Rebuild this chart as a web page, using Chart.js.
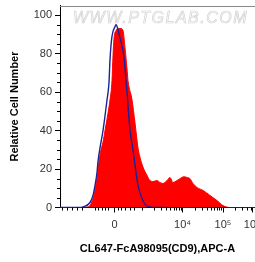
<!DOCTYPE html>
<html>
<head>
<meta charset="utf-8">
<script src="https://cdn.jsdelivr.net/npm/chart.js@4/dist/chart.umd.min.js"></script>
<style>
  html, body { margin: 0; padding: 0; background: #fff; }
  #wrap { width: 255px; height: 262px; position: relative; }
</style>
</head>
<body>
<div id="wrap"><canvas id="c" width="255" height="262"></canvas></div>
<script>
// x values are in display decades (10^4 -> 4, 10^5 -> 5; "0" sits at 2.32 on this biexponential axis)
const sampleX = [0.975, 1.543, 1.667, 1.790, 1.889, 1.938, 1.988, 2.037, 2.086, 2.160, 2.210, 2.259, 2.284, 2.309, 2.358, 2.407, 2.481, 2.531, 2.580, 2.630, 2.654, 2.753, 2.827, 2.901, 2.951, 3.025, 3.123, 3.198, 3.272, 3.370, 3.444, 3.519, 3.617, 3.691, 3.765, 3.864, 3.938, 4.037, 4.111, 4.185, 4.259, 4.358, 4.506, 4.679, 4.852, 5.000, 5.173, 5.790];
const sampleY = [0, 0, 0.3, 4.7, 15, 24, 30, 34, 40, 49, 56, 66, 79, 88, 92, 93, 93, 92, 83, 72, 66, 56, 44, 31, 26, 21, 16.7, 14, 13.5, 14, 13, 12.5, 14, 15.6, 13, 14, 15, 16, 15.6, 15, 12.5, 10.4, 8.9, 6.3, 3.6, 1, 0, 0];

const controlX = [0.975, 1.469, 1.543, 1.716, 1.790, 1.840, 1.889, 1.914, 1.963, 2.037, 2.136, 2.185, 2.210, 2.259, 2.333, 2.358, 2.407, 2.457, 2.506, 2.556, 2.605, 2.630, 2.654, 2.704, 2.778, 2.827, 2.901, 3.000, 3.074, 3.198, 3.321, 3.600];
const controlY = [0, 0, 0.3, 2.6, 6.3, 11.5, 18.2, 24, 31, 40, 56, 65, 77, 89, 94, 95, 92.5, 88, 84, 78, 66, 60, 53, 40, 30, 22, 11.5, 4.7, 1.6, 0.3, 0, 0];

const xTickValues = [2.32, 4, 5, 5.72];
const xTickLabels = ['0', '10\u2074', '10\u2075', '10\u2076'];
const xMinorTicks = [1.025, 1.148, 1.272, 1.395, 1.519, 1.840, 1.914, 2.012, 2.086, 2.160, 2.407, 2.481, 2.580, 2.704, 2.802, 3.0,
  3.301, 3.477, 3.602, 3.699, 3.778, 3.845, 3.903, 3.954,
  4.301, 4.477, 4.602, 4.699, 4.778, 4.845, 4.903, 4.954,
  5.301, 5.477, 5.602, 5.699, 5.778];

const yTickValues = [0, 20, 40, 60, 80, 100];
const yMinorTicks = [5, 10, 15, 25, 30, 35, 45, 50, 55, 65, 70, 75, 85, 90, 95];

const xTitle = 'CL647-FcA98095(CD9),APC-A';
const yTitle = 'Relative Cell Number';
const watermark = 'WWW.PTGLAB.COM';

const FONT = 'Liberation Sans, Arial, Helvetica, sans-serif';

const toPoints = (xs, ys) => xs.map((x, i) => ({ x: x, y: ys[i] }));

const extras = {
  id: 'extras',
  beforeDatasetsDraw(chart) {
    const { ctx, chartArea } = chart;
    ctx.save();
    ctx.font = 'italic 16px ' + FONT;
    if ('letterSpacing' in ctx) ctx.letterSpacing = '1.5px';
    ctx.strokeStyle = '#d2d2d2';
    ctx.lineWidth = 0.7;
    ctx.textBaseline = 'alphabetic';
    ctx.textAlign = 'left';
    ctx.strokeText(watermark, chartArea.left + 13, chartArea.top + 17);
    ctx.restore();
  },
  afterDraw(chart) {
    const { ctx, chartArea, scales } = chart;
    ctx.save();
    ctx.strokeStyle = '#8a8a8a';
    ctx.lineWidth = 1;
    ctx.beginPath();
    ctx.moveTo(chartArea.left, Math.round(chartArea.top) + 0.5);
    ctx.lineTo(chartArea.right, Math.round(chartArea.top) + 0.5);
    ctx.stroke();
    ctx.strokeStyle = '#000';
    ctx.beginPath();
    yMinorTicks.forEach(v => {
      const y = Math.round(scales.y.getPixelForValue(v)) + 0.5;
      ctx.moveTo(chartArea.left - 3, y);
      ctx.lineTo(chartArea.left, y);
    });
    xMinorTicks.forEach(v => {
      const x = Math.round(scales.x.getPixelForValue(v)) + 0.5;
      ctx.moveTo(x, chartArea.bottom);
      ctx.lineTo(x, chartArea.bottom + 3);
    });
    ctx.stroke();
    ctx.restore();
  }
};

new Chart(document.getElementById('c'), {
  type: 'line',
  data: {
    datasets: [
      {
        label: 'Control',
        data: toPoints(controlX, controlY),
        borderColor: '#1f1f96',
        borderWidth: 1.4,
        fill: false,
        pointRadius: 0,
        cubicInterpolationMode: 'monotone',
        order: 0
      },
      {
        label: 'CD9',
        data: toPoints(sampleX, sampleY),
        borderColor: '#ff0000',
        backgroundColor: '#ff0000',
        borderWidth: 1,
        fill: 'origin',
        pointRadius: 0,
        cubicInterpolationMode: 'monotone',
        order: 1
      }
    ]
  },
  options: {
    responsive: false,
    animation: false,
    devicePixelRatio: 1,
    layout: { padding: { top: 5.5, right: 0, bottom: 0, left: 0 } },
    plugins: { legend: { display: false }, tooltip: { enabled: false } },
    scales: {
      x: {
        type: 'linear',
        min: 0.975,
        max: 5.79,
        afterBuildTicks(scale) { scale.ticks = xTickValues.map(v => ({ value: v })); },
        afterFit(scale) { scale.height = 54.5; scale.paddingLeft = 0; scale.paddingRight = 0; },
        ticks: {
          autoSkip: false,
          maxRotation: 0,
          padding: 6,
          color: '#333',
          font: { family: FONT, size: 11 },
          callback(value) {
            const i = xTickValues.indexOf(value);
            return i >= 0 ? xTickLabels[i] : '';
          }
        },
        grid: { display: true, drawOnChartArea: false, drawTicks: true, tickLength: 5, tickColor: '#000' },
        border: { display: true, color: '#000', width: 1 },
        title: {
          display: true,
          text: xTitle,
          color: '#000',
          font: { family: FONT, size: 11, weight: 'bold' },
          padding: { top: 0, bottom: 6.2 }
        }
      },
      y: {
        type: 'linear',
        min: 0,
        max: 105,
        afterBuildTicks(scale) { scale.ticks = yTickValues.map(v => ({ value: v })); },
        afterFit(scale) { scale.width = 60; scale.paddingTop = 0; scale.paddingBottom = 0; },
        ticks: {
          autoSkip: false,
          padding: 3,
          color: '#333',
          font: { family: FONT, size: 11 },
          callback(value) { return String(value); }
        },
        grid: { display: true, drawOnChartArea: false, drawTicks: true, tickLength: 5, tickColor: '#000' },
        border: { display: true, color: '#000', width: 1 },
        title: {
          display: true,
          text: yTitle,
          color: '#000',
          font: { family: FONT, size: 11, weight: 'bold' },
          padding: { top: 8.2, bottom: 0 }
        }
      }
    }
  },
  plugins: [extras]
});
</script>
</body>
</html>
